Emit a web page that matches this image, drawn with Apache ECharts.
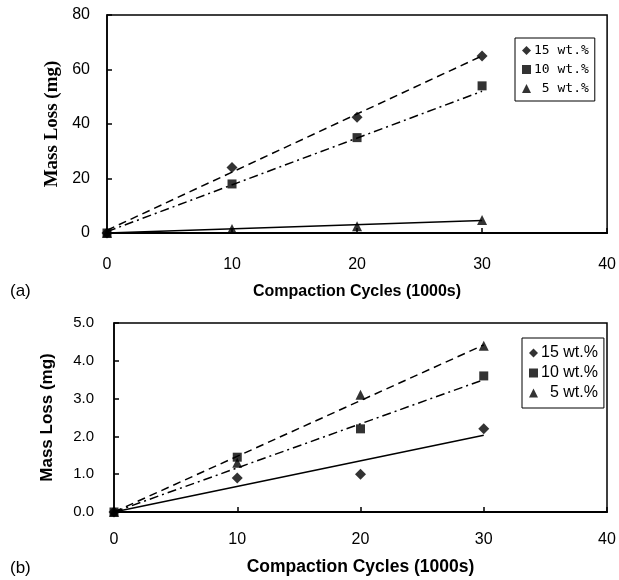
<!DOCTYPE html>
<html>
<head>
<meta charset="utf-8">
<script src="https://cdn.jsdelivr.net/npm/echarts@6/dist/echarts.min.js"></script>
<style>
html,body{margin:0;padding:0;background:#fff;}
#chart{width:619px;height:580px;}
</style>
</head>
<body>
<div id="chart"></div>
<script>
// ---- Panel (a) data ----
const cyclesA = [0, 10, 20, 30];
const a15 = [0, 24, 42.5, 65];
const a10 = [0, 18, 35, 54];
const a5 = [0, 1.5, 2.5, 4.8];
// trend lines (start, end at x = 0 and 30)
const trendX = [0, 30];
const a15Trend = [1, 65];
const a10Trend = [0.5, 52];
const a5Trend = [0, 4.6];

// ---- Panel (b) data ----
const cyclesB = [0, 10, 20, 30];
const b15 = [0, 0.9, 1.0, 2.2];
const b10 = [0, 1.45, 2.2, 3.6];
const b5 = [0, 1.3, 3.1, 4.4];
const b15Trend = [0, 2.03];
const b10Trend = [0, 3.5];
const b5Trend = [0, 4.42];

const xTicks = [0, 10, 20, 30, 40];
const yTicksA = [0, 20, 40, 60, 80];
const yTicksB = [0, 1, 2, 3, 4, 5];

const namesA = ['15 wt.%', '10 wt.%', '5 wt.%'];
const namesB = ['15 wt.%', '10 wt.%', '5 wt.%'];

function pts(xs, ys) { return xs.map((x, i) => [x, ys[i]]); }

const chart = echarts.init(document.getElementById('chart'), null, {renderer: 'canvas'});

const axisCommonX = (gridIndex, font, margin, nameGap) => ({
  type: 'value', gridIndex: gridIndex,
  min: xTicks[0], max: xTicks[xTicks.length - 1], interval: 10,
  axisLine: {show: true, onZero: false, lineStyle: {color: '#000', width: 2}},
  axisTick: {show: true, inside: true, length: 5, lineStyle: {color: '#000', width: 1.5}},
  axisLabel: {color: '#000', fontFamily: 'Arial, Liberation Sans', fontSize: font, margin: margin},
  splitLine: {show: false},
  name: 'Compaction Cycles (1000s)',
  nameLocation: 'middle', nameGap: nameGap,
  nameTextStyle: {color: '#000', fontWeight: 'bold', fontFamily: 'Arial, Liberation Sans', fontSize: gridIndex === 0 ? 16 : 17.5}
});

const mkTag = (n, p) => n + ' (' + p + ')';

const option = {
  animation: false,
  backgroundColor: '#fff',
  grid: [
    {left: 107, right: 11, top: 15, height: 218, show: true, borderColor: '#000', borderWidth: 1.5, backgroundColor: 'transparent'},
    {left: 114, right: 12, top: 323, height: 189, show: true, borderColor: '#000', borderWidth: 1.5, backgroundColor: 'transparent'}
  ],
  xAxis: [
    axisCommonX(0, 16, 24, 51),
    axisCommonX(1, 16, 20, 46)
  ],
  yAxis: [
    {
      type: 'value', gridIndex: 0, min: yTicksA[0], max: yTicksA[yTicksA.length - 1], interval: 20,
      axisLine: {show: true, lineStyle: {color: '#000', width: 1.5}},
      axisTick: {show: true, inside: true, length: 5, lineStyle: {color: '#000', width: 1.5}},
      axisLabel: {color: '#000', fontFamily: 'Arial, Liberation Sans', fontSize: 16, margin: 17},
      splitLine: {show: false},
      name: 'Mass Loss (mg)', nameLocation: 'middle', nameGap: 40,
      nameTextStyle: {color: '#000', fontWeight: 'bold', fontFamily: 'Liberation Serif, Times New Roman, serif', fontSize: 19}
    },
    {
      type: 'value', gridIndex: 1, min: yTicksB[0], max: yTicksB[yTicksB.length - 1], interval: 1,
      axisLine: {show: true, lineStyle: {color: '#000', width: 1.5}},
      axisTick: {show: true, inside: true, length: 5, lineStyle: {color: '#000', width: 1.5}},
      axisLabel: {color: '#000', fontFamily: 'Arial, Liberation Sans', fontSize: 15, margin: 20,
        formatter: v => v.toFixed(1)},
      splitLine: {show: false},
      name: 'Mass Loss (mg)', nameLocation: 'middle', nameGap: 58,
      nameTextStyle: {color: '#000', fontWeight: 'bold', fontFamily: 'Arial, Liberation Sans', fontSize: 17}
    }
  ],
  legend: [
    {
      data: namesA.map(n => mkTag(n, 'a')),
      orient: 'vertical', left: 515, top: 38,
      itemWidth: 9, itemHeight: 9, itemGap: 6,
      padding: [6, 6, 6, 7],
      borderColor: '#000', borderWidth: 1, backgroundColor: '#fff',
      textStyle: {color: '#000', fontFamily: 'DejaVu Sans Mono, Liberation Mono, monospace', fontSize: 13, padding: [0, 0, 0, -2]},
      formatter: n => { const s = n.replace(' (a)', ''); return s.startsWith('5') ? ' ' + s : s; },
      selectedMode: false
    },
    {
      data: namesB.map(n => mkTag(n, 'b')),
      orient: 'vertical', left: 522, top: 338,
      itemWidth: 9, itemHeight: 9, itemGap: 4,
      padding: [7, 6, 7, 7],
      borderColor: '#000', borderWidth: 1, backgroundColor: '#fff',
      textStyle: {color: '#000', fontFamily: 'Arial, Liberation Sans', fontSize: 16, padding: [0, 0, 0, -2]},
      formatter: n => { const s = n.replace(' (b)', ''); return s.startsWith('5') ? '  ' + s : s; },
      selectedMode: false
    }
  ],
  graphic: [
    {type: 'text', left: 10, top: 283, style: {text: '(a)', fill: '#000', font: '17px Arial, Liberation Sans'}},
    {type: 'text', left: 10, top: 560, style: {text: '(b)', fill: '#000', font: '17px Arial, Liberation Sans'}}
  ],
  series: [
    // panel (a) trend lines
    {type: 'line', name: 'trend15a', xAxisIndex: 0, yAxisIndex: 0, data: pts(trendX, a15Trend), symbol: 'none',
      lineStyle: {color: '#000', width: 1.5, type: [8, 5]}, z: 2},
    {type: 'line', name: 'trend10a', xAxisIndex: 0, yAxisIndex: 0, data: pts(trendX, a10Trend), symbol: 'none',
      lineStyle: {color: '#000', width: 1.5, type: [9, 4, 2, 4]}, z: 2},
    {type: 'line', name: 'trend5a', xAxisIndex: 0, yAxisIndex: 0, data: pts(trendX, a5Trend), symbol: 'none',
      lineStyle: {color: '#000', width: 1.5}, z: 2},
    // panel (a) points
    {type: 'scatter', name: mkTag(namesA[0], 'a'), xAxisIndex: 0, yAxisIndex: 0, data: pts(cyclesA, a15),
      symbol: 'diamond', symbolSize: 11, itemStyle: {color: '#000'}, z: 3},
    {type: 'scatter', name: mkTag(namesA[1], 'a'), xAxisIndex: 0, yAxisIndex: 0, data: pts(cyclesA, a10),
      symbol: 'rect', symbolSize: 9, itemStyle: {color: '#000'}, z: 3},
    {type: 'scatter', name: mkTag(namesA[2], 'a'), xAxisIndex: 0, yAxisIndex: 0, data: pts(cyclesA, a5),
      symbol: 'triangle', symbolSize: 10, itemStyle: {color: '#000'}, z: 3},
    // panel (b) trend lines
    {type: 'line', name: 'trend15b', xAxisIndex: 1, yAxisIndex: 1, data: pts(trendX, b15Trend), symbol: 'none',
      lineStyle: {color: '#000', width: 1.5}, z: 2},
    {type: 'line', name: 'trend10b', xAxisIndex: 1, yAxisIndex: 1, data: pts(trendX, b10Trend), symbol: 'none',
      lineStyle: {color: '#000', width: 1.5, type: [9, 4, 2, 4]}, z: 2},
    {type: 'line', name: 'trend5b', xAxisIndex: 1, yAxisIndex: 1, data: pts(trendX, b5Trend), symbol: 'none',
      lineStyle: {color: '#000', width: 1.5, type: [8, 5]}, z: 2},
    // panel (b) points
    {type: 'scatter', name: mkTag(namesB[0], 'b'), xAxisIndex: 1, yAxisIndex: 1, data: pts(cyclesB, b15),
      symbol: 'diamond', symbolSize: 11, itemStyle: {color: '#000'}, z: 3},
    {type: 'scatter', name: mkTag(namesB[1], 'b'), xAxisIndex: 1, yAxisIndex: 1, data: pts(cyclesB, b10),
      symbol: 'rect', symbolSize: 9, itemStyle: {color: '#000'}, z: 3},
    {type: 'scatter', name: mkTag(namesB[2], 'b'), xAxisIndex: 1, yAxisIndex: 1, data: pts(cyclesB, b5),
      symbol: 'triangle', symbolSize: 10, itemStyle: {color: '#000'}, z: 3}
  ]
};
chart.setOption(option);
</script>
</body>
</html>
